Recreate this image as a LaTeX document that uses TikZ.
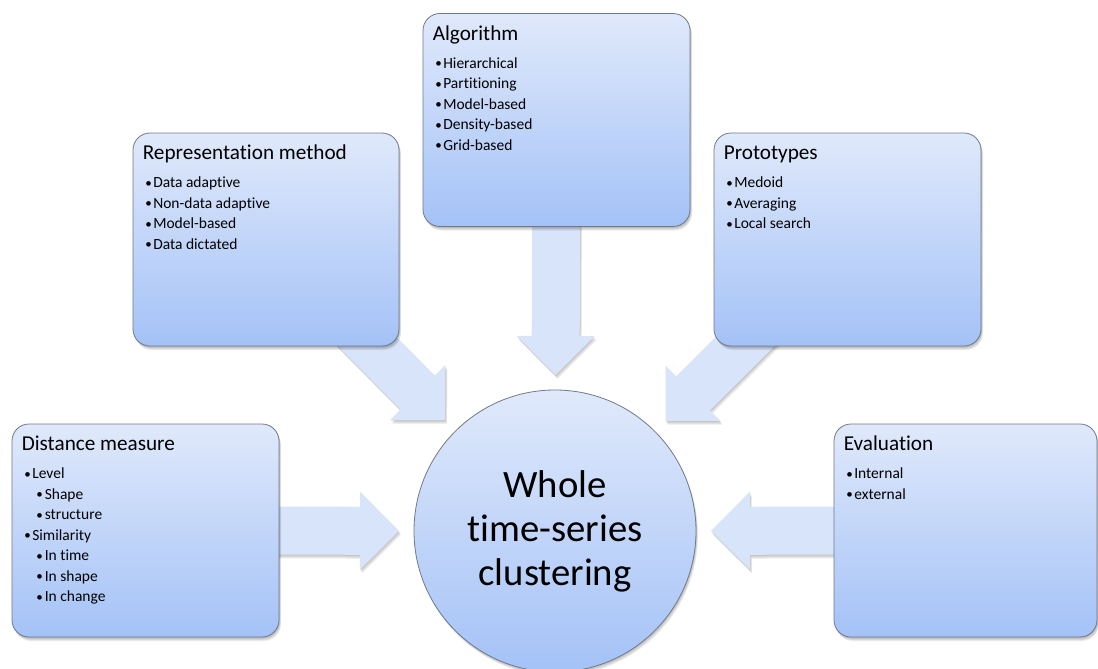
\documentclass[tikz,border=0pt]{standalone}
\usepackage{fontspec}
\setmainfont{Carlito}[Ligatures=CommonOff]
\usetikzlibrary{calc,shadows}

\pgfdeclarelayer{bg}
\pgfdeclarelayer{arrows}
\pgfsetlayers{bg,arrows,main}

\definecolor{boxtop}{RGB}{224,233,251}
\definecolor{boxbot}{RGB}{164,194,247}
\definecolor{rim}{RGB}{112,122,138}
\definecolor{arrowblue}{RGB}{216,228,250}

% fonts for box headings and bullet lines
\newcommand\titlefont{\fontsize{21.2}{24}\selectfont}
\newcommand\bodyfont{\fontsize{15.5}{20.5}\selectfont}
\newcommand\bulletmark{\raisebox{0.4pt}{\fontsize{13}{13}\selectfont\textbullet}}
% first- and second-level bullet lines
\newcommand\itm[1]{\leavevmode\hspace*{2.5pt}\hbox to 8pt{\bulletmark\hss}#1\par}
\newcommand\sitm[1]{\leavevmode\hspace*{14.5pt}\hbox to 8.5pt{\bulletmark\hss}#1\par}
% heading plus bullet list; the baseline is that of the heading
\newcommand\boxtext[2]{\vtop{\hsize=245pt\parindent=0pt\parskip=0pt\raggedright
  {\titlefont #1\par}\vspace{7.5pt}\bodyfont #2}}

% wide block arrow from the centre of node #1 towards the centre of node #2
\newcommand\blockarrow[3]{%
  \path ($(#2.center)!156pt!(#1.center)$) coordinate (#3-tip)
        ($(#3-tip)!39pt!(#1.center)$) coordinate (#3-base);
  \fill[arrowfill]
    ($(#1.center)!24pt!90:(#3-tip)$) -- ($(#3-base)!24pt!90:(#3-tip)$)
    -- ($(#3-base)!39pt!90:(#3-tip)$) -- (#3-tip)
    -- ($(#3-base)!39pt!-90:(#3-tip)$) -- ($(#3-base)!24pt!-90:(#3-tip)$)
    -- ($(#1.center)!24pt!-90:(#3-tip)$) -- cycle;
}

\tikzset{
  softshadow/.style={
    general shadow={fill=black, fill opacity=#1, shadow xshift=0.5pt, shadow yshift=-1pt},
    general shadow={fill=black, fill opacity=#1, shadow xshift=1pt, shadow yshift=-2pt},
    general shadow={fill=black, fill opacity=#1, shadow xshift=1.5pt, shadow yshift=-3pt},
    general shadow={fill=black, fill opacity=#1, shadow xshift=2pt, shadow yshift=-4pt}},
  panel/.style={rectangle, rounded corners=17pt, minimum height=213pt,
    inner sep=0pt, draw=rim, line width=0.8pt,
    top color=boxtop, bottom color=boxbot, softshadow=0.08},
  listtext/.style={anchor=base west, inner sep=0pt, text=black},
  hub/.style={circle, minimum size=282pt, inner sep=0pt, draw=rim,
    line width=0.8pt, top color=boxtop, bottom color=boxbot,
    align=center, font=\fontsize{38.7}{44}\selectfont, softshadow=0.07},
  arrowfill/.style={fill=arrowblue, softshadow=0.06}
}

\begin{document}
\begin{tikzpicture}[x=1pt, y=-1pt]
\useasboundingbox (0,0) rectangle (1098,669);
\begin{pgfonlayer}{bg}
  \fill[white] (0,0) rectangle (1098,669);
\end{pgfonlayer}

% centre topic
\node[hub] (c) at (555,531) {Whole\\time-series\\clustering};

% surrounding panels
\node[panel, minimum width=267pt] (dist)  at (145.5,530.5) {};
\node[panel, minimum width=266pt] (rep)   at (266,239.5)   {};
\node[panel, minimum width=267pt] (algo)  at (556.5,120)   {};
\node[panel, minimum width=267pt] (proto) at (847.5,239.5) {};
\node[panel, minimum width=263pt] (eval)  at (965.5,530.5) {};

\node[listtext] (dist-t) at ($(dist.north west)+(10,27)$)
  {\boxtext{Distance measure}{\itm{Level}\sitm{Shape}\sitm{structure}%
    \itm{Similarity}\sitm{In time}\sitm{In shape}\sitm{In change}}};
\node[listtext] (rep-t) at ($(rep.north west)+(10,27)$)
  {\boxtext{Representation method}{\itm{Data adaptive}\itm{Non-data adaptive}%
    \itm{Model-based}\itm{Data dictated}}};
\node[listtext] (algo-t) at ($(algo.north west)+(10,27)$)
  {\boxtext{Algorithm}{\itm{Hierarchical}\itm{Partitioning}\itm{Model-based}%
    \itm{Density-based}\itm{Grid-based}}};
\node[listtext] (proto-t) at ($(proto.north west)+(10,27)$)
  {\boxtext{Prototypes}{\itm{Medoid}\itm{Averaging}\itm{Local search}}};
\node[listtext] (eval-t) at ($(eval.north west)+(10,27)$)
  {\boxtext{Evaluation}{\itm{Internal}\itm{external}}};

% block arrows feeding the centre topic
\begin{pgfonlayer}{arrows}
  \blockarrow{dist}{c}{a1}
  \blockarrow{rep}{c}{a2}
  \blockarrow{algo}{c}{a3}
  \blockarrow{proto}{c}{a4}
  \blockarrow{eval}{c}{a5}
\end{pgfonlayer}
\end{tikzpicture}
\end{document}
